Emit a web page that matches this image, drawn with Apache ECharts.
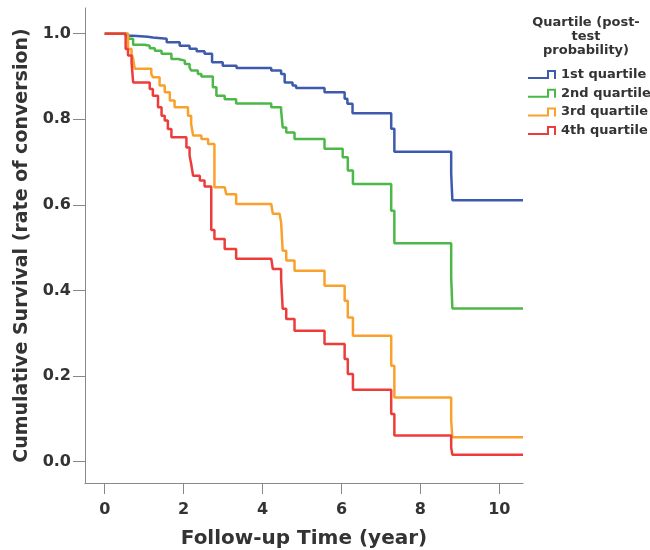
<!DOCTYPE html>
<html>
<head>
<meta charset="utf-8">
<script src="https://cdn.jsdelivr.net/npm/echarts@6/dist/echarts.min.js"></script>
<style>
  html, body { margin: 0; padding: 0; background: #fff; }
  #chart { width: 650px; height: 550px; }
</style>
</head>
<body>
<div id="chart"></div>
<script>
// Kaplan-Meier steps: follow-up time (year) and survival
const q1Time = [0, 0.53, 0.72, 1.09, 1.22, 1.57, 1.90, 2.15, 2.33, 2.53, 2.72, 2.99, 3.34, 4.22, 4.47, 4.56, 4.76, 4.85, 5.57, 6.08, 6.15, 6.28, 7.26, 7.34, 8.78, 8.81, 10.6];
const q1Surv = [1.0, 0.995, 0.993, 0.991, 0.988, 0.980, 0.972, 0.965, 0.959, 0.953, 0.933, 0.925, 0.920, 0.914, 0.906, 0.886, 0.879, 0.873, 0.863, 0.848, 0.836, 0.814, 0.778, 0.724, 0.673, 0.611, 0.611];

const q2Time = [0, 0.59, 0.72, 1.01, 1.14, 1.27, 1.44, 1.69, 1.86, 2.03, 2.15, 2.19, 2.36, 2.45, 2.74, 2.83, 3.04, 3.33, 4.22, 4.47, 4.51, 4.60, 4.81, 5.57, 6.03, 6.16, 6.29, 7.26, 7.34, 8.78, 8.81, 10.6];
const q2Surv = [1.0, 0.988, 0.974, 0.972, 0.966, 0.960, 0.953, 0.941, 0.937, 0.929, 0.921, 0.914, 0.906, 0.900, 0.875, 0.855, 0.847, 0.837, 0.828, 0.820, 0.781, 0.769, 0.754, 0.731, 0.711, 0.680, 0.649, 0.586, 0.510, 0.431, 0.358, 0.358];

const q3Time = [0, 0.59, 0.68, 0.72, 0.76, 1.18, 1.22, 1.39, 1.52, 1.65, 1.77, 2.11, 2.19, 2.24, 2.45, 2.62, 2.78, 3.04, 3.08, 3.33, 4.22, 4.26, 4.43, 4.47, 4.51, 4.60, 4.81, 5.57, 6.08, 6.16, 6.29, 7.26, 7.34, 8.78, 8.81, 10.6];
const q3Surv = [1.0, 0.964, 0.953, 0.941, 0.918, 0.906, 0.898, 0.879, 0.863, 0.844, 0.828, 0.808, 0.789, 0.762, 0.754, 0.742, 0.641, 0.637, 0.625, 0.602, 0.598, 0.579, 0.575, 0.559, 0.493, 0.470, 0.446, 0.411, 0.376, 0.337, 0.294, 0.224, 0.150, 0.096, 0.057, 0.057];

const q4Time = [0, 0.53, 0.59, 0.68, 0.72, 1.14, 1.22, 1.35, 1.44, 1.52, 1.60, 1.69, 2.07, 2.15, 2.19, 2.24, 2.41, 2.53, 2.70, 2.78, 3.04, 3.33, 4.22, 4.26, 4.47, 4.51, 4.60, 4.81, 5.57, 6.08, 6.16, 6.29, 7.26, 7.34, 8.78, 8.81, 10.6];
const q4Surv = [1.0, 0.964, 0.949, 0.933, 0.886, 0.871, 0.855, 0.828, 0.808, 0.797, 0.777, 0.758, 0.734, 0.715, 0.696, 0.668, 0.657, 0.643, 0.541, 0.520, 0.497, 0.474, 0.470, 0.450, 0.427, 0.357, 0.333, 0.306, 0.275, 0.240, 0.205, 0.168, 0.111, 0.061, 0.033, 0.016, 0.016];

const seriesNames = ['1st quartile', '2nd quartile', '3rd quartile', '4th quartile'];
const xTicks = [0, 2, 4, 6, 8, 10];
const yTicks = [0, 0.2, 0.4, 0.6, 0.8, 1.0];

const colors = ['#3d5aad', '#4cb848', '#f9a12c', '#ec3d3b'];
const font = 'DejaVu Sans';

const zip = (t, s) => t.map((v, i) => [v, s[i]]);
const curves = [zip(q1Time, q1Surv), zip(q2Time, q2Surv), zip(q3Time, q3Surv), zip(q4Time, q4Surv)];

// step-shaped legend glyph
const stepIcon = 'path://M0,9L0,7L19,7L19,0L28,0L28,9L26,9L26,2L21,2L21,9Z';

const chart = echarts.init(document.getElementById('chart'));

chart.setOption({
  animation: false,
  grid: { left: 85, right: 127, top: 8, bottom: 67, outerBoundsMode: 'none', containLabel: false },
  legend: {
    orient: 'vertical',
    left: 528,
    top: 68,
    padding: 0,
    itemWidth: 28,
    itemHeight: 9,
    itemGap: 5.7,
    icon: stepIcon,
    selectedMode: false,
    data: seriesNames,
    textStyle: { fontFamily: font, fontWeight: 'bold', fontSize: 13, color: '#333', lineHeight: 13 }
  },
  graphic: [{
    type: 'text',
    x: 586,
    y: 16,
    style: {
      text: 'Quartile (post-\ntest\nprobability)',
      textAlign: 'center',
      textVerticalAlign: 'top',
      font: 'bold 13px "DejaVu Sans"',
      lineHeight: 14,
      fill: '#333'
    }
  }],
  xAxis: {
    type: 'value',
    min: -0.5,
    max: 10.6,
    name: 'Follow-up Time (year)',
    nameLocation: 'middle',
    nameGap: 46,
    nameTextStyle: { fontFamily: font, fontWeight: 'bold', fontSize: 20, color: '#333' },
    axisLine: { onZero: false, lineStyle: { color: '#888', width: 1 } },
    axisTick: { show: true, length: 11, customValues: xTicks, lineStyle: { color: '#888' } },
    axisLabel: {
      customValues: xTicks,
      margin: 19,
      fontFamily: font,
      fontWeight: 'bold',
      fontSize: 16,
      color: '#333'
    },
    splitLine: { show: false }
  },
  yAxis: {
    type: 'value',
    min: -0.05,
    max: 1.06,
    name: 'Cumulative Survival (rate of conversion)',
    nameLocation: 'middle',
    nameGap: 53,
    nameTextStyle: { fontFamily: font, fontWeight: 'bold', fontSize: 19, color: '#333' },
    axisLine: { show: true, onZero: false, lineStyle: { color: '#888', width: 1 } },
    axisTick: { show: true, length: 12, customValues: yTicks, lineStyle: { color: '#888' } },
    axisLabel: {
      customValues: yTicks,
      margin: 14,
      fontFamily: font,
      fontWeight: 'bold',
      fontSize: 16,
      color: '#333',
      formatter: v => v.toFixed(1)
    },
    splitLine: { show: false }
  },
  series: curves.map((d, i) => ({
    name: seriesNames[i],
    type: 'line',
    step: 'end',
    data: d,
    showSymbol: false,
    color: colors[i],
    itemStyle: { color: colors[i] },
    lineStyle: { color: colors[i], width: 2.5 }
  }))
});
</script>
</body>
</html>
